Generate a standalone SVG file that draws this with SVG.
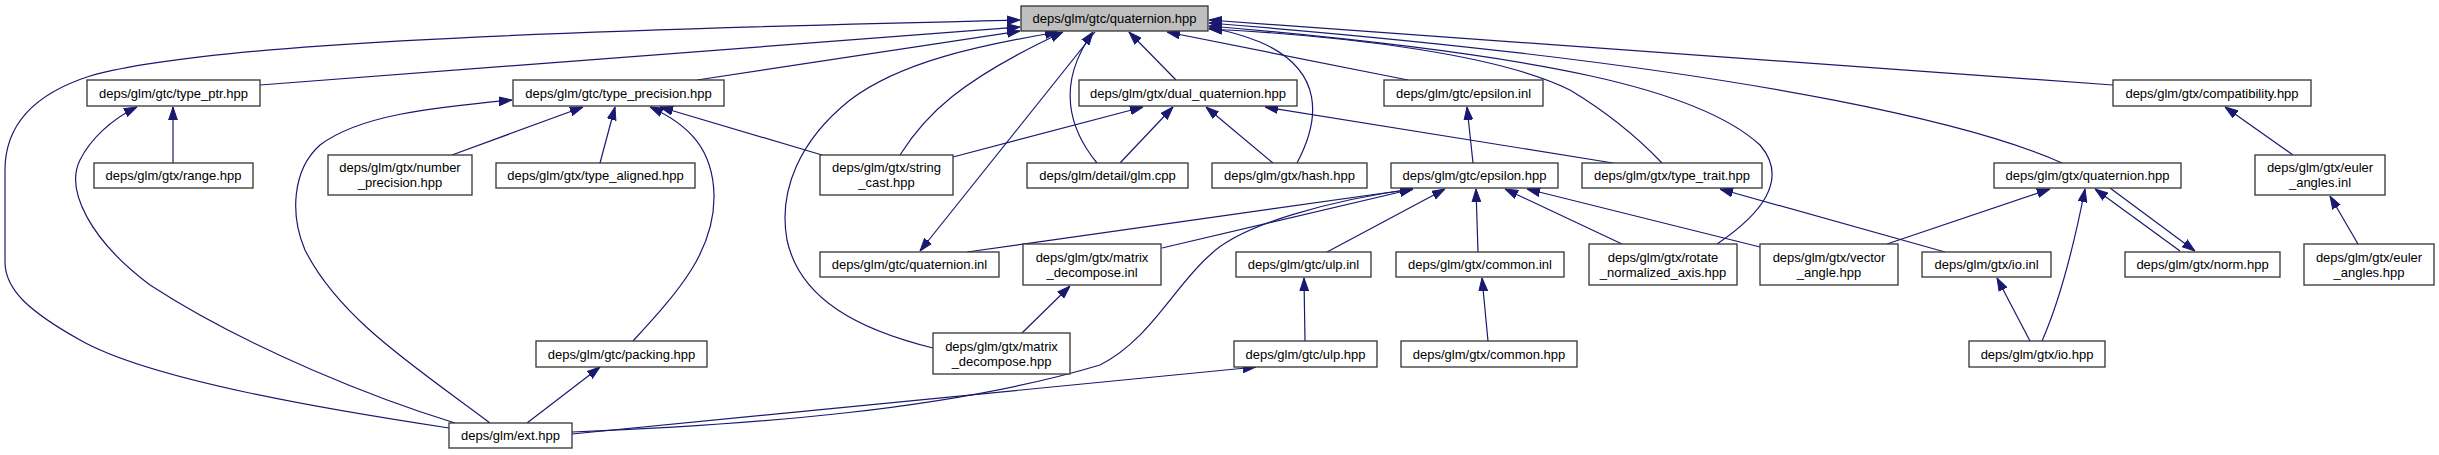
<svg xmlns="http://www.w3.org/2000/svg" width="2439" height="455" viewBox="0 0 2439 455">
<style>
.n rect{fill:#ffffff;stroke:#333333;stroke-width:1.3}
.n.root rect{fill:#bfbfbf}
.n text{font-family:"Liberation Sans",Arial,sans-serif;font-size:13px;fill:#000000;text-anchor:middle}
.e path{fill:none;stroke:#191970;stroke-width:1.2;marker-end:url(#arr)}
</style>
<defs>
<marker id="arr" markerUnits="userSpaceOnUse" viewBox="0 0 13 10" refX="13" refY="5" markerWidth="13" markerHeight="10" orient="auto">
<path d="M0,0.6 L13,5 L0,9.4 z" fill="#191970" stroke="#191970" stroke-width="1"/>
</marker>
</defs>
<rect width="2439" height="455" fill="#ffffff"/>
<g id="edges" class="e">
<path d="M449,428 C330,410 150,380 80,340 C30,312 5,290 5,262 L5,170 C5,120 40,92 90,76 C200,45 500,32 1020,20"/>
<path d="M260,85 L1020,27"/>
<path d="M697,80 L1020,31"/>
<path d="M900,155 C925,115 960,80 1063,32"/>
<path d="M933,348 C860,330 800,300 787,240 C778,190 800,140 850,100 C900,62 980,45 1058,32"/>
<path d="M1097,163 C1070,130 1055,85 1093,32"/>
<path d="M1176,80 L1129,32"/>
<path d="M1297,163 C1320,120 1325,70 1260,42 C1240,34 1225,30 1209,28"/>
<path d="M1408,80 L1167,32"/>
<path d="M1662,163 C1640,140 1610,114 1570,90 C1500,55 1350,36 1209,29"/>
<path d="M1717,244 C1760,215 1790,180 1760,145 C1700,90 1550,55 1209,26"/>
<path d="M2062,163 C2000,135 1800,70 1209,23"/>
<path d="M2113,85 L1209,20"/>
<path d="M455,423 C380,400 250,350 150,285 C90,240 65,190 80,160 C90,140 110,120 137,107"/>
<path d="M173,163 L173,107"/>
<path d="M490,423 C420,370 340,320 305,250 C290,215 292,170 320,145 C360,115 430,108 512,100"/>
<path d="M452,155 L583,107"/>
<path d="M600,163 L615,107"/>
<path d="M633,341 C680,290 715,250 714,195 C713,150 690,125 650,107"/>
<path d="M822,155 L660,107"/>
<path d="M953,157 L1143,107"/>
<path d="M1120,163 L1173,107"/>
<path d="M1273,163 L1206,107"/>
<path d="M1613,163 L1265,107"/>
<path d="M1473,163 L1467,107"/>
<path d="M1095,32 L920,251"/>
<path d="M967,252 L1413,189"/>
<path d="M1162,248 L1413,189"/>
<path d="M572,432 C750,425 950,410 1100,365 C1150,340 1175,285 1210,255 C1240,225 1330,200 1413,189"/>
<path d="M572,434 L1256,367"/>
<path d="M1327,252 L1445,189"/>
<path d="M1478,252 L1476,189"/>
<path d="M1622,244 L1505,189"/>
<path d="M1760,247 L1527,189"/>
<path d="M1305,341 L1304,278"/>
<path d="M1488,341 L1482,278"/>
<path d="M1022,333 L1070,286"/>
<path d="M527,423 L600,367"/>
<path d="M1945,252 L1720,189"/>
<path d="M1887,244 L2050,189"/>
<path d="M2042,341 C2060,300 2075,240 2085,189"/>
<path d="M2180,251 L2095,189"/>
<path d="M2110,188 L2195,251"/>
<path d="M2030,341 L1997,278"/>
<path d="M2358,244 L2330,196"/>
<path d="M2293,155 L2225,107"/>
</g>
<g id="n_quaternion_hpp" class="n root"><rect x="1021" y="6" width="187" height="25"/><text x="1114.5" y="23">deps/glm/gtc/quaternion.hpp</text></g>
<g id="n_type_ptr" class="n"><rect x="87" y="80" width="173" height="26"/><text x="173.5" y="97.5">deps/glm/gtc/type_ptr.hpp</text></g>
<g id="n_type_precision" class="n"><rect x="513" y="80" width="211" height="26"/><text x="618.5" y="97.5">deps/glm/gtc/type_precision.hpp</text></g>
<g id="n_dual_quaternion" class="n"><rect x="1079" y="80" width="218" height="26"/><text x="1188" y="97.5">deps/glm/gtx/dual_quaternion.hpp</text></g>
<g id="n_epsilon_inl" class="n"><rect x="1384" y="80" width="159" height="26"/><text x="1463.5" y="97.5">deps/glm/gtc/epsilon.inl</text></g>
<g id="n_compatibility" class="n"><rect x="2113" y="80" width="198" height="26"/><text x="2212" y="97.5">deps/glm/gtx/compatibility.hpp</text></g>
<g id="n_range" class="n"><rect x="94" y="163" width="159" height="25"/><text x="173.5" y="180">deps/glm/gtx/range.hpp</text></g>
<g id="n_number_precision" class="n"><rect x="328" y="155" width="144" height="40"/><text x="400" y="172">deps/glm/gtx/number</text><text x="400" y="187">_precision.hpp</text></g>
<g id="n_type_aligned" class="n"><rect x="496" y="163" width="199" height="25"/><text x="595.5" y="180">deps/glm/gtx/type_aligned.hpp</text></g>
<g id="n_string_cast" class="n"><rect x="820" y="155" width="133" height="40"/><text x="886.5" y="172">deps/glm/gtx/string</text><text x="886.5" y="187">_cast.hpp</text></g>
<g id="n_glm_cpp" class="n"><rect x="1027" y="163" width="161" height="25"/><text x="1107.5" y="180">deps/glm/detail/glm.cpp</text></g>
<g id="n_hash" class="n"><rect x="1212" y="163" width="155" height="25"/><text x="1289.5" y="180">deps/glm/gtx/hash.hpp</text></g>
<g id="n_epsilon_hpp" class="n"><rect x="1391" y="163" width="167" height="25"/><text x="1474.5" y="180">deps/glm/gtc/epsilon.hpp</text></g>
<g id="n_type_trait" class="n"><rect x="1582" y="163" width="180" height="25"/><text x="1672" y="180">deps/glm/gtx/type_trait.hpp</text></g>
<g id="n_gtx_quaternion" class="n"><rect x="1994" y="163" width="187" height="25"/><text x="2087.5" y="180">deps/glm/gtx/quaternion.hpp</text></g>
<g id="n_euler_angles_inl" class="n"><rect x="2255" y="155" width="130" height="40"/><text x="2320" y="172">deps/glm/gtx/euler</text><text x="2320" y="187">_angles.inl</text></g>
<g id="n_quaternion_inl" class="n"><rect x="820" y="252" width="179" height="25"/><text x="909.5" y="269">deps/glm/gtc/quaternion.inl</text></g>
<g id="n_matrix_decompose_inl" class="n"><rect x="1023" y="244" width="138" height="41"/><text x="1092" y="261.5">deps/glm/gtx/matrix</text><text x="1092" y="276.5">_decompose.inl</text></g>
<g id="n_ulp_inl" class="n"><rect x="1236" y="252" width="135" height="25"/><text x="1303.5" y="269">deps/glm/gtc/ulp.inl</text></g>
<g id="n_common_inl" class="n"><rect x="1396" y="252" width="168" height="25"/><text x="1480" y="269">deps/glm/gtx/common.inl</text></g>
<g id="n_rotate_normalized_axis" class="n"><rect x="1589" y="244" width="148" height="41"/><text x="1663" y="261.5">deps/glm/gtx/rotate</text><text x="1663" y="276.5">_normalized_axis.hpp</text></g>
<g id="n_vector_angle" class="n"><rect x="1760" y="244" width="138" height="41"/><text x="1829" y="261.5">deps/glm/gtx/vector</text><text x="1829" y="276.5">_angle.hpp</text></g>
<g id="n_io_inl" class="n"><rect x="1922" y="252" width="129" height="25"/><text x="1986.5" y="269">deps/glm/gtx/io.inl</text></g>
<g id="n_norm" class="n"><rect x="2125" y="252" width="155" height="25"/><text x="2202.5" y="269">deps/glm/gtx/norm.hpp</text></g>
<g id="n_euler_angles_hpp" class="n"><rect x="2304" y="244" width="130" height="41"/><text x="2369" y="261.5">deps/glm/gtx/euler</text><text x="2369" y="276.5">_angles.hpp</text></g>
<g id="n_packing" class="n"><rect x="536" y="341" width="171" height="26"/><text x="621.5" y="358.5">deps/glm/gtc/packing.hpp</text></g>
<g id="n_matrix_decompose_hpp" class="n"><rect x="933" y="333" width="137" height="41"/><text x="1001.5" y="350.5">deps/glm/gtx/matrix</text><text x="1001.5" y="365.5">_decompose.hpp</text></g>
<g id="n_ulp_hpp" class="n"><rect x="1234" y="341" width="143" height="26"/><text x="1305.5" y="358.5">deps/glm/gtc/ulp.hpp</text></g>
<g id="n_common_hpp" class="n"><rect x="1401" y="341" width="176" height="26"/><text x="1489" y="358.5">deps/glm/gtx/common.hpp</text></g>
<g id="n_io_hpp" class="n"><rect x="1969" y="341" width="136" height="26"/><text x="2037" y="358.5">deps/glm/gtx/io.hpp</text></g>
<g id="n_ext" class="n"><rect x="449" y="423" width="123" height="25"/><text x="510.5" y="440">deps/glm/ext.hpp</text></g>
</svg>
